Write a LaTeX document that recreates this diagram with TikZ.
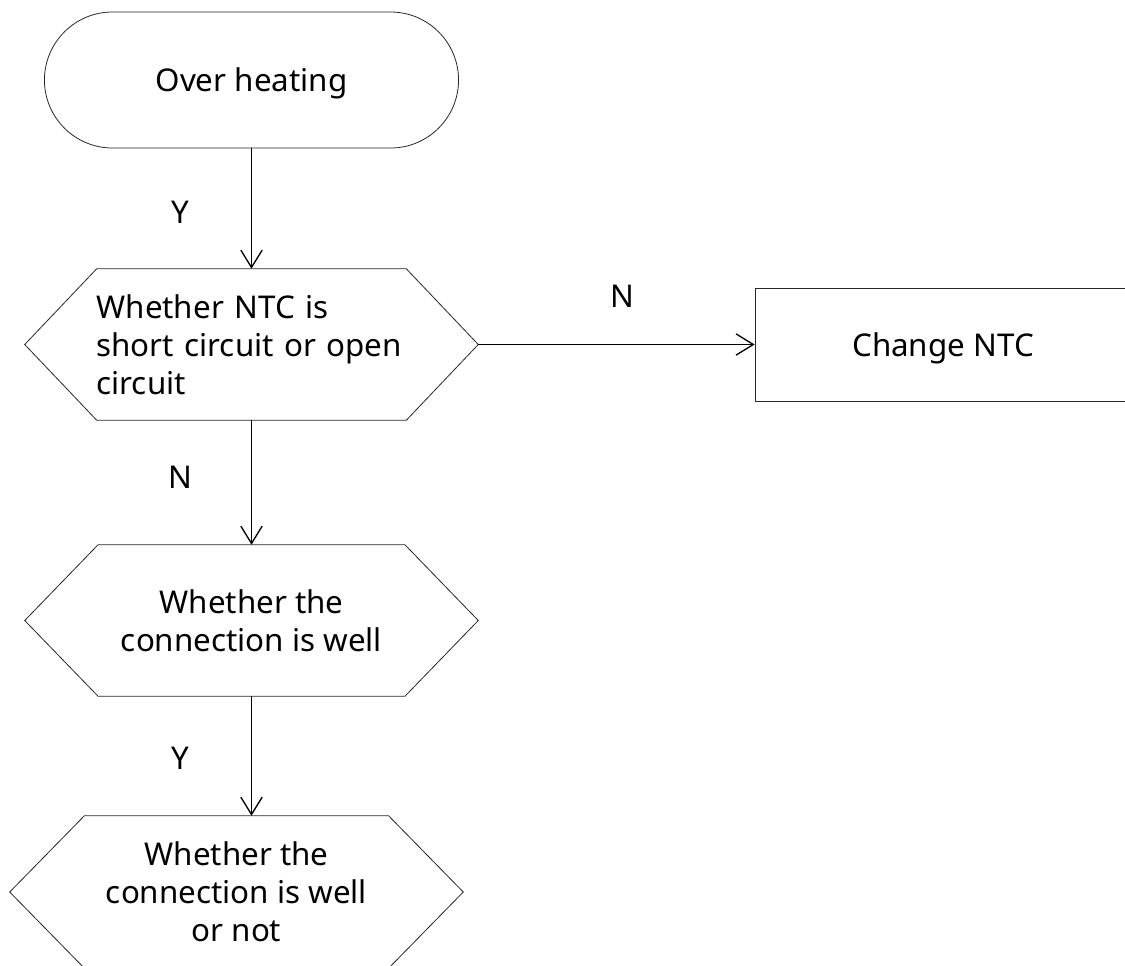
\documentclass[tikz,border=0pt]{standalone}
\usepackage{fontspec}
\setmainfont{Noto Sans}
\usetikzlibrary{shapes.misc,arrows.meta}

\tikzset{
  flowtext/.style={font=\fontsize{23.5}{28.5}\selectfont},
  shapeline/.style={draw=black!85, line width=0.6pt},
  hexbox/.style={flowtext, inner sep=0pt, minimum width=339.75pt, minimum height=113.25pt, align=center},
  link/.style={line width=1pt, -{Straight Barb[length=13pt,width=16pt]}},
  tag/.style={flowtext, inner sep=0pt}
}

\begin{document}
\begin{tikzpicture}[x=0.75pt,y=0.75pt,yscale=-1,xscale=1]
\useasboundingbox (0,0) rectangle (1125,965);

%Shape: Terminal [id:start]
\node[shapeline, flowtext, rounded rectangle, text depth=0pt, minimum width=317.25pt, minimum height=102pt] (start) at (251.5,80) {Over heating};

%Shape: Hexagon [id:ntc]
\node[hexbox, align=left, text width=232.5pt] (ntc) at (251.5,344.5) {Whether NTC is\\short circuit or open\\circuit};
\draw[shapeline] (ntc.west) -- ([xshift=54pt]ntc.north west) -- ([xshift=-54pt]ntc.north east) -- (ntc.east) -- ([xshift=-54pt]ntc.south east) -- ([xshift=54pt]ntc.south west) -- cycle;

%Shape: Rectangle [id:change]
\node[shapeline, flowtext, rectangle, text depth=0pt, minimum width=282pt, minimum height=84.75pt] (change) at (943,344.5) {Change NTC};

%Shape: Hexagon [id:conn]
\node[hexbox] (conn) at (251.5,620.5) {Whether the\\connection is well};
\draw[shapeline] (conn.west) -- ([xshift=55pt]conn.north west) -- ([xshift=-55pt]conn.north east) -- (conn.east) -- ([xshift=-55pt]conn.south east) -- ([xshift=55pt]conn.south west) -- cycle;

%Shape: Hexagon [id:connb]
\node[hexbox, minimum height=114pt] (connb) at (236.5,892) {Whether the\\connection is well\\or not};
\draw[shapeline] (connb.west) -- ([xshift=56pt]connb.north west) -- ([xshift=-56pt]connb.north east) -- (connb.east) -- ([xshift=-56pt]connb.south east) -- ([xshift=56pt]connb.south west) -- cycle;

%Straight Lines [id:links]
\draw[link] (start.south) -- (ntc.north);
\draw[link] (ntc.east) -- (change.west);
\draw[link] (ntc.south) -- (conn.north);
\draw[link] (conn.south) -- (conn.south |- connb.north);

% Text Node
\node[tag] (y1) at (180,212) {Y};
% Text Node
\node[tag] (n1) at (622,296) {N};
% Text Node
\node[tag] (n2) at (180,477) {N};
% Text Node
\node[tag] (y2) at (180,758) {Y};

\end{tikzpicture}
\end{document}
